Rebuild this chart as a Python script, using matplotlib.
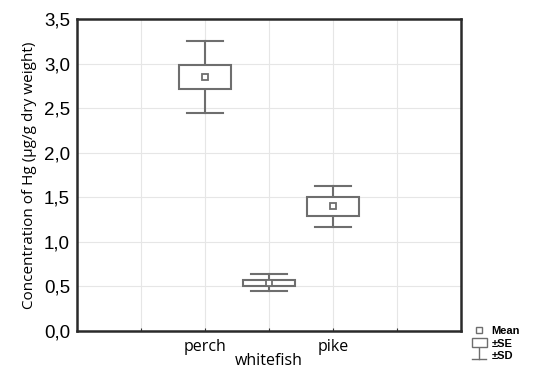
import matplotlib
matplotlib.use("Agg")
import matplotlib.pyplot as plt
from matplotlib.lines import Line2D
from matplotlib.patches import Rectangle
from matplotlib.legend_handler import HandlerBase
from matplotlib.transforms import ScaledTranslation

plt.rcParams['font.family'] = ['Liberation Sans', 'DejaVu Sans']

# Hg concentration per species: mean, standard error, standard deviation
species = ["perch", "whitefish", "pike"]
positions = [2, 3, 4]
mean = [2.85, 0.54, 1.40]
se = [0.13, 0.03, 0.105]
sd = [0.40, 0.095, 0.23]

y_ticks = [0.0, 0.5, 1.0, 1.5, 2.0, 2.5, 3.0, 3.5]
y_labels = ["0,0", "0,5", "1,0", "1,5", "2,0", "2,5", "3,0", "3,5"]

GRAY = "#6e6e6e"
BOX_W = 0.82
CAP_W = 0.56


class WhiskerHandler(HandlerBase):
    """Draws the +/-SD whisker glyph in the legend."""
    def create_artists(self, legend, orig, xd, yd, width, height, fontsize, trans):
        cx = xd + width / 2
        top = yd + height * 1.1
        bot = yd - height * 0.1
        stem = Line2D([cx, cx], [bot, top], color=GRAY, lw=1.0, transform=trans)
        cap = Line2D([cx - width * 0.45, cx + width * 0.45], [bot, bot],
                     color=GRAY, lw=1.0, transform=trans)
        return [stem, cap]


fig = plt.figure(figsize=(5.38, 3.74), dpi=100)
ax = fig.add_axes([0.143, 0.115, 0.714, 0.834])

for x, m, s, d in zip(positions, mean, se, sd):
    # whiskers (+/- SD)
    ax.plot([x, x], [m - d, m - s], color=GRAY, lw=1.5, zorder=3)
    ax.plot([x, x], [m + s, m + d], color=GRAY, lw=1.5, zorder=3)
    ax.plot([x - CAP_W / 2, x + CAP_W / 2], [m - d, m - d], color=GRAY, lw=1.5, zorder=3)
    ax.plot([x - CAP_W / 2, x + CAP_W / 2], [m + d, m + d], color=GRAY, lw=1.5, zorder=3)
    # box (+/- SE)
    ax.add_patch(Rectangle((x - BOX_W / 2, m - s), BOX_W, 2 * s, facecolor="white",
                           edgecolor=GRAY, lw=1.5, zorder=4))
    # mean
    ax.plot([x], [m], marker="s", ms=4.5, mfc="white", mec=GRAY, mew=1.3, zorder=5)

ax.set_xlim(0, 6)
ax.set_ylim(0, 3.5)
ax.set_yticks(y_ticks)
ax.set_yticklabels(y_labels, fontsize=13.5)
ax.set_xticks([1, 2, 3, 4, 5])
ax.set_xticklabels([""] + species + [""], fontsize=11.5, family=["Open Sans", "DejaVu Sans"])
ax.grid(True, color="#e6e6e6", lw=0.8)
ax.set_axisbelow(True)
ax.tick_params(axis="both", direction="in", length=2, color="#333333")
ax.tick_params(axis="y", length=0, pad=5)
ax.tick_params(axis="x", pad=6)

# stagger the middle category label downwards
lab = ax.get_xticklabels()[2]
lab.set_transform(lab.get_transform() + ScaledTranslation(0, -14 / 100, fig.dpi_scale_trans))

for side in ax.spines.values():
    side.set_linewidth(1.8)
    side.set_color("#2a2a2a")

ax.set_ylabel("Concentration of Hg (µg/g dry weight)", fontsize=11, labelpad=5,
              family=["Open Sans", "DejaVu Sans"])

handles = [
    Line2D([], [], ls="none", marker="s", ms=4, mfc="white", mec=GRAY, mew=1.0),
    Rectangle((0, 0), 1, 1, facecolor="white", edgecolor=GRAY, lw=1.0),
    Line2D([], [], color=GRAY),
]
fig.legend(handles, ["Mean", "±SE", "±SD"],
           handler_map={handles[2]: WhiskerHandler()},
           loc="upper left", bbox_to_anchor=(466 / 538, 1 - 320 / 374),
           frameon=False, handlelength=1.4, handleheight=0.9,
           handletextpad=0.4, labelspacing=0.2, borderpad=0.0,
           prop={"weight": "bold", "size": 8})

fig.savefig("out.png", dpi=100)
